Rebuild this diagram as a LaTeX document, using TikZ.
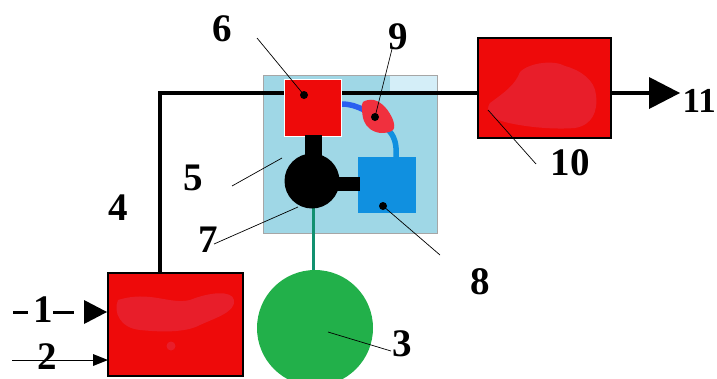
\documentclass[tikz,border=0pt]{standalone}
\usepackage{fontspec}
\setmainfont{Liberation Serif}
\begin{document}
\begin{tikzpicture}[x=1pt,y=-1pt,
  lbl/.style={font=\fontsize{39}{39}\selectfont\bfseries, inner sep=0pt},
  redbox/.style={draw=black, line width=2.2pt, fill=boxred, inner sep=0pt},
  leader/.style={draw=black, line width=0.7pt},
  dotm/.style={circle, fill=black, inner sep=0pt, minimum size=8pt},
  mainline/.style={draw=black, line width=4.5pt},
]
\definecolor{boxred}{HTML}{EE0A0A}
\definecolor{smudge}{HTML}{E81E2A}
\definecolor{lightblue}{HTML}{9FD7E6}
\definecolor{paleblue}{HTML}{D4EEF8}
\definecolor{midblue}{HTML}{1090E0}
\definecolor{deepblue}{HTML}{2A5EF0}
\definecolor{leafred}{HTML}{F0303E}
\definecolor{greenc}{HTML}{22B04A}
\definecolor{teal}{HTML}{129070}
\useasboundingbox (0,0) rectangle (717,378);
\clip (0,0) rectangle (717,378);

% unit 5 (light blue housing)
\node[draw=gray!70, line width=0.8pt, fill=lightblue, minimum width=174pt, minimum height=158pt, inner sep=0pt] (u5) at (350,154) {};
\fill[paleblue] (390,76) rectangle (436.5,92);

% coordinates for the main line
\coordinate (c4b) at (160,273);
\coordinate (c4c) at (160,93);
\coordinate (c10l) at (478,93);
\coordinate (c10r) at (611,93);
\coordinate (c11) at (682,93);

% main line
\draw[mainline] (c4b) -- (c4c) -- (c10l);
\draw[mainline] (c10r) -- (650,93);
\fill[black] (649,77) -- (680,93) -- (649,109) -- cycle;

% box 1 (bottom left)
\node[redbox, minimum width=135pt, minimum height=103pt] (b1) at (175.5,324.5) {};
\fill[smudge] (118,300) .. controls (150,290) and (170,305) .. (190,300) .. controls (210,292) and (232,290) .. (234,300)
  .. controls (236,312) and (215,318) .. (200,325) .. controls (185,333) and (160,332) .. (140,330)
  .. controls (120,328) and (113,312) .. (118,300) -- cycle;
\fill[smudge] (171,346) circle (4.5);

% box 10
\node[redbox, minimum width=133pt, minimum height=100pt] (b10) at (544.5,88) {};
\fill[smudge] (490,103) .. controls (505,92) and (515,85) .. (520,72) .. controls (530,62) and (555,60) .. (565,66)
  .. controls (580,70) and (595,80) .. (596,95) .. controls (598,112) and (592,125) .. (575,128)
  .. controls (550,130) and (520,126) .. (505,122) .. controls (490,118) and (485,110) .. (490,103) -- cycle;

% inputs 1 and 2
\draw[black, line width=3pt] (13,312) -- (28,312);
\draw[black, line width=3pt] (53,312) -- (74,312);
\node[lbl] (l1) at (43,310) {1};
\fill[black] (84,300) -- (107,312) -- (84,324) -- cycle;
\coordinate (in2) at (12,360);
\draw[black, line width=1pt] (in2) -- (94,360);
\fill[black] (93,354) -- (108,360) -- (93,366) -- cycle;
\node[lbl] (l2) at (47,357) {2};

% green stem and circle 3
\draw[teal, line width=3.5pt] (313.5,205) -- (313.5,272);
\node[circle, fill=greenc, minimum size=116pt, inner sep=0pt] (c3) at (315,328) {};

% blue connections
\draw[deepblue, line width=5.5pt] (341,104) .. controls (350,104) and (356,106) .. (364,110);
\draw[midblue, line width=5.5pt] (386,128) .. controls (395,135) and (397,145) .. (396,158);

% leaf 9
\fill[leafred] plot[smooth cycle, tension=0.6] coordinates {(363,102) (374,100) (385,107) (393,120) (393,130) (381,133) (370,129) (364,121) (362,110)};

% box 6
\node[draw=white, line width=0.8pt, fill=boxred, minimum width=57pt, minimum height=57pt, inner sep=0pt] (b6) at (313,108) {};

% box 8
\node[fill=midblue, minimum width=58pt, minimum height=56pt, inner sep=0pt] (b8) at (387,185) {};

% element 7
\fill[black] (305,135) rectangle (322,158);
\fill[black] (336,177) rectangle (360,191);
\node[circle, fill=black, minimum size=55pt, inner sep=0pt] (c7) at (312,181) {};

% dots
\node[dotm] (d6) at (304,95) {};
\node[dotm] (d9) at (375,117) {};
\node[dotm] (d8) at (383,206) {};

% labels
\node[lbl] (l3) at (402,344) {3};
\node[lbl] (l4) at (118,208) {4};
\node[lbl] (l5) at (193,178) {5};
\node[lbl] (l6) at (222,29) {6};
\node[lbl] (l7) at (208,240) {7};
\node[lbl] (l8) at (480,282) {8};
\node[lbl] (l9) at (398,37) {9};
\node[lbl] (l10) at (570,163) {10};
\node[lbl, font=\fontsize{35}{35}\selectfont\bfseries, anchor=east] (l11) at (716,101) {11};

% leaders
\coordinate (p6) at (257,38);
\coordinate (p9) at (392,49);
\coordinate (p5) at (232,186);
\coordinate (q5) at (282,158);
\coordinate (p7) at (214,244);
\coordinate (q7) at (298,207);
\coordinate (p8) at (440,255);
\coordinate (p3) at (391,351);
\coordinate (q3) at (328,332);
\coordinate (p10) at (536,164);
\coordinate (q10) at (488,110);
\draw[leader] (p6) -- (d6.center);
\draw[leader] (p9) -- (d9.center);
\draw[leader] (p5) -- (q5);
\draw[leader] (p7) -- (q7);
\draw[leader] (d8.center) -- (p8);
\draw[leader] (q3) -- (p3);
\draw[leader] (q10) -- (p10);
\end{tikzpicture}
\end{document}
